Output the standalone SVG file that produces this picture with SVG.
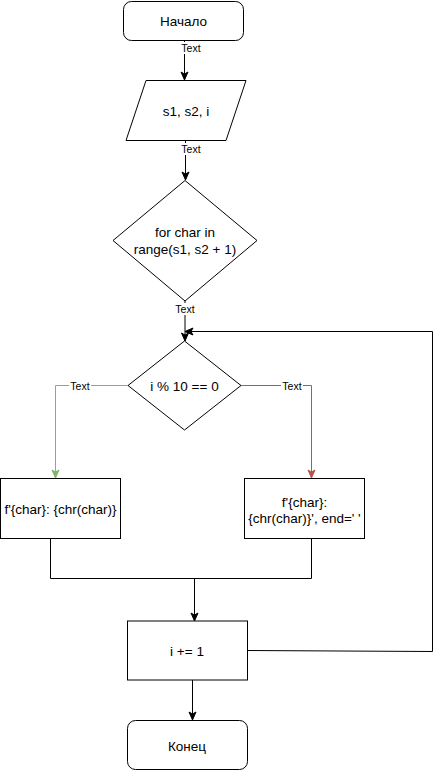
<svg xmlns="http://www.w3.org/2000/svg" width="434" height="771" viewBox="0 0 434 771">
<style>
.n{fill:#ffffff;stroke:#000000;stroke-width:1}
.t{font-family:"Liberation Sans",Arial,sans-serif;font-size:13.5px;fill:#000000;text-anchor:middle}
.l{font-family:"Liberation Sans",Arial,sans-serif;font-size:10.5px;fill:#000000;text-anchor:middle}
.e{fill:none;stroke:#000000;stroke-width:1}
.g{fill:none;stroke:#82b366;stroke-width:1}
.r{fill:none;stroke:#b85450;stroke-width:1}
.lb{fill:#ffffff}
</style>
<defs>
<marker id="ak" markerUnits="userSpaceOnUse" markerWidth="10" markerHeight="10" viewBox="0 0 10 10" refX="9" refY="5" orient="auto"><path d="M1,1.5 L9,5 L1,8.5 L3,5 Z" fill="#000000" stroke="#000000" stroke-width="1"/></marker>
<marker id="ag" markerUnits="userSpaceOnUse" markerWidth="10" markerHeight="10" viewBox="0 0 10 10" refX="9" refY="5" orient="auto"><path d="M1,1.5 L9,5 L1,8.5 L3,5 Z" fill="#82b366" stroke="#82b366" stroke-width="1"/></marker>
<marker id="ar" markerUnits="userSpaceOnUse" markerWidth="10" markerHeight="10" viewBox="0 0 10 10" refX="9" refY="5" orient="auto"><path d="M1,1.5 L9,5 L1,8.5 L3,5 Z" fill="#b85450" stroke="#b85450" stroke-width="1"/></marker>
</defs>
<g id="connectors">
<path class="e" d="M184.5,41 L184.5,80" marker-end="url(#ak)"/>
<path class="e" d="M185.5,140 L185.5,180" marker-end="url(#ak)"/>
<path class="e" d="M185,301 L185,341" marker-end="url(#ak)"/>
<path class="g" d="M128,385.5 L55.5,385.5 L55.5,478" marker-end="url(#ag)"/>
<path class="r" d="M241,385.5 L311.5,385.5 L311.5,478" marker-end="url(#ar)"/>
<path class="e" d="M50.5,538 L50.5,578.5 L311.5,578.5 L311.5,538"/>
<path class="e" d="M194.5,578.5 L194.5,621" marker-end="url(#ak)"/>
<path class="e" d="M192.5,680 L192.5,720" marker-end="url(#ak)"/>
<path class="e" d="M247,650.5 L432.5,651.5 L432.5,331.5 L185,331.5" marker-end="url(#ak)"/>
<rect class="lb" x="180" y="42" width="22" height="12"/>
<text class="l" x="191" y="52">Text</text>
<rect class="lb" x="180" y="143" width="22" height="12"/>
<text class="l" x="191" y="153">Text</text>
<rect class="lb" x="174" y="303" width="22" height="12"/>
<text class="l" x="185" y="313">Text</text>
<rect class="lb" x="69" y="380" width="22" height="12"/>
<text class="l" x="80" y="389.5">Text</text>
<rect class="lb" x="281" y="380" width="22" height="12"/>
<text class="l" x="292" y="389.5">Text</text>
</g>
<g id="start">
<rect class="n" x="123.5" y="1.5" width="120" height="39" rx="8"/>
<text class="t" x="183.5" y="26">Начало</text>
</g>
<g id="input">
<polygon class="n" points="146,80.5 246,80.5 226,140.5 126,140.5"/>
<text class="t" x="186" y="116">s1, s2, i</text>
</g>
<g id="loop">
<polygon class="n" points="185,180.5 257,240.5 185,301 113,240.5"/>
<text class="t" x="185" y="237">for char in</text>
<text class="t" x="185" y="253.5">range(s1, s2 + 1)</text>
</g>
<g id="cond">
<polygon class="n" points="184.5,341 241,385.5 184.5,430 128,385.5"/>
<text class="t" x="184.5" y="391">i % 10 == 0</text>
</g>
<g id="printA">
<rect class="n" x="0.5" y="478.5" width="120" height="60"/>
<text class="t" x="60.5" y="514">f'{char}: {chr(char)}</text>
</g>
<g id="printB">
<rect class="n" x="244.5" y="478.5" width="120" height="60"/>
<text class="t" x="304.5" y="507">f'{char}:</text>
<text class="t" x="304.5" y="523">{chr(char)}', end=' '</text>
</g>
<g id="inc">
<rect class="n" x="127.5" y="621" width="120" height="59"/>
<text class="t" x="187" y="656">i += 1</text>
</g>
<g id="end">
<rect class="n" x="127.5" y="720.5" width="120" height="49" rx="8"/>
<text class="t" x="187" y="751">Конец</text>
</g>
</svg>
